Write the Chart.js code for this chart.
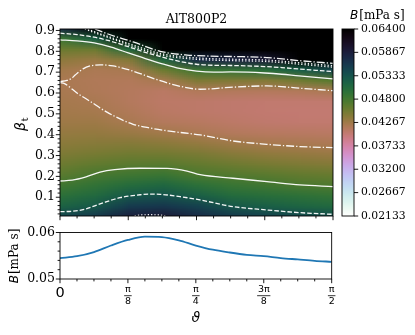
<!DOCTYPE html>
<html>
<head>
<meta charset="utf-8">
<script src="https://cdn.jsdelivr.net/npm/chart.js@4.4.0/dist/chart.umd.min.js"></script>
<style>
  html, body { margin: 0; padding: 0; background: #fff; }
  #page { position: relative; width: 415px; height: 335px; overflow: hidden; }
  .box { position: absolute; }
</style>
</head>
<body>
<div id="page">
  <div class="box" style="left:0;top:0;width:340px;height:230px"><canvas id="mapChart"></canvas></div>
  <div class="box" style="left:330px;top:0;width:85px;height:230px"><canvas id="barChart"></canvas></div>
  <div class="box" style="left:0;top:220px;width:340px;height:115px"><canvas id="lineChart"></canvas></div>
</div>
<script>
// grid of B (mPa s): columns = theta (deg), rows = beta_t
const thetaGrid = [0, 11.25, 22.5, 33.75, 45, 56.25, 67.5, 78.75, 90];
const betaGrid = [0.01, 0.06, 0.11, 0.16, 0.21, 0.26, 0.31, 0.36, 0.41, 0.46,
                  0.51, 0.56, 0.61, 0.66, 0.71, 0.76, 0.81, 0.86, 0.91];
const fieldB = [
  [0.0545, 0.0558, 0.0584, 0.0590, 0.0572, 0.0557, 0.0549, 0.0542, 0.0537],
  [0.0515, 0.0527, 0.0556, 0.0560, 0.0550, 0.0528, 0.0520, 0.0513, 0.0508],
  [0.0497, 0.0508, 0.0527, 0.0533, 0.0520, 0.0505, 0.0500, 0.0495, 0.0490],
  [0.0481, 0.0492, 0.0503, 0.0510, 0.0497, 0.0487, 0.0482, 0.0475, 0.0472],
  [0.0466, 0.0476, 0.0482, 0.0486, 0.0474, 0.0470, 0.0466, 0.0461, 0.0458],
  [0.0455, 0.0462, 0.0466, 0.0467, 0.0461, 0.0455, 0.0450, 0.0446, 0.0443],
  [0.0446, 0.0450, 0.0453, 0.0452, 0.0448, 0.0441, 0.0436, 0.0433, 0.0430],
  [0.0439, 0.0441, 0.0442, 0.0439, 0.0434, 0.0427, 0.0422, 0.0420, 0.0418],
  [0.0433, 0.0434, 0.0430, 0.0425, 0.0419, 0.0414, 0.0411, 0.0410, 0.0409],
  [0.0428, 0.0428, 0.0421, 0.0414, 0.0411, 0.0407, 0.0404, 0.0403, 0.0403],
  [0.0425, 0.0423, 0.0416, 0.0409, 0.0406, 0.0404, 0.0402, 0.0401, 0.0401],
  [0.0423, 0.0420, 0.0413, 0.0407, 0.0406, 0.0404, 0.0403, 0.0403, 0.0403],
  [0.0421, 0.0417, 0.0413, 0.0409, 0.0415, 0.0414, 0.0413, 0.0415, 0.0420],
  [0.0420, 0.0416, 0.0415, 0.0422, 0.0446, 0.0445, 0.0443, 0.0454, 0.0468],
  [0.0425, 0.0419, 0.0421, 0.0455, 0.0484, 0.0490, 0.0500, 0.0522, 0.0545],
  [0.0437, 0.0431, 0.0443, 0.0509, 0.0572, 0.0580, 0.0590, 0.0660, 0.0680],
  [0.0456, 0.0455, 0.0508, 0.0660, 0.0700, 0.0700, 0.0720, 0.0750, 0.0760],
  [0.0484, 0.0519, 0.0680, 0.0750, 0.0780, 0.0780, 0.0780, 0.0800, 0.0800],
  [0.0570, 0.0645, 0.0750, 0.0800, 0.0800, 0.0800, 0.0800, 0.0800, 0.0800]
];

// contour lines (theta deg, beta_t)
const topDashDotT = [11.5, 14.5, 18.1, 24.1, 33, 41.9, 49.5, 57, 68.2, 79.1, 90];
const topDashDotB = [0.907, 0.89, 0.872, 0.845, 0.80, 0.782, 0.777, 0.775, 0.77, 0.755, 0.742];
const topDot1T = [9.2, 13, 16.5, 24.1, 33, 41.9, 49.5, 57, 68.2, 79.1, 90];
const topDot1B = [0.907, 0.885, 0.868, 0.83, 0.79, 0.772, 0.765, 0.762, 0.758, 0.745, 0.731];
const topDot2T = [8.2, 12, 16, 24.1, 33, 41.9, 49.5, 57, 68.2, 79.1, 90];
const topDot2B = [0.907, 0.886, 0.866, 0.823, 0.783, 0.765, 0.758, 0.755, 0.751, 0.738, 0.724];
const topDashT = [0, 5.625, 11.25, 16.875, 22.5, 28.125, 33.75, 39.375, 45, 50.625, 56.25, 61.875, 67.5, 73.125, 78.75, 84.375, 90];
const topDashB = [0.887, 0.880, 0.868, 0.848, 0.822, 0.795, 0.772, 0.752, 0.738, 0.733, 0.732, 0.730, 0.727, 0.722, 0.715, 0.709, 0.703];
const topSolidT = topDashT;
const topSolidB = [0.855, 0.850, 0.840, 0.820, 0.792, 0.765, 0.740, 0.718, 0.705, 0.700, 0.701, 0.700, 0.696, 0.690, 0.682, 0.675, 0.668];
const upDashDotT = [0, 2.3, 3.9, 5.0, 7.6, 10, 13.2, 17.5, 24.1, 32, 39.6, 46.2, 57, 68.2, 79.1, 90];
const upDashDotB = [0.655, 0.660, 0.671, 0.686, 0.716, 0.730, 0.735, 0.730, 0.705, 0.664, 0.632, 0.618, 0.628, 0.634, 0.623, 0.611];
const lowDashDotT = [0, 1.5, 5.6, 10.9, 13.2, 17.5, 24.1, 29.7, 37.3, 46.2, 57, 68.2, 79.1, 90];
const lowDashDotB = [0.650, 0.645, 0.600, 0.551, 0.528, 0.492, 0.450, 0.432, 0.415, 0.399, 0.370, 0.354, 0.343, 0.338];
const lowSolidT = [0, 4, 8.6, 13.2, 18, 26.4, 35.3, 41.9, 46.2, 57, 68.2, 79.1, 90];
const lowSolidB = [0.178, 0.182, 0.198, 0.220, 0.232, 0.239, 0.238, 0.225, 0.208, 0.191, 0.175, 0.159, 0.151];
const lowDashT = [0, 4, 8, 13.2, 19.8, 26.4, 29.7, 33, 39.6, 46.2, 57, 68.2, 79.1, 90];
const lowDashB = [0.031, 0.033, 0.042, 0.068, 0.098, 0.112, 0.115, 0.114, 0.103, 0.087, 0.055, 0.039, 0.026, 0.018];
const lowDotT = [24.6, 26.5, 29.7, 32.8, 34.7];
const lowDotB = [0.0103, 0.0145, 0.016, 0.0145, 0.0103];

// lower panel: B along theta
const thetaLine = [0, 5.625, 11.25, 16.875, 22.5, 28.125, 33.75, 39.375, 45, 50.625, 56.25, 61.875, 67.5, 73.125, 78.75, 84.375, 90];
const bLine = [0.0545, 0.0549, 0.0558, 0.0572, 0.0584, 0.0591, 0.0590, 0.0583, 0.0572, 0.0563, 0.0557, 0.0552, 0.0549, 0.0545, 0.0542, 0.0539, 0.0537];

const cbMin = 0.02133, cbMax = 0.064;
const cbTicks = [0.02133, 0.02667, 0.032, 0.03733, 0.04267, 0.048, 0.05333, 0.05867, 0.064];
const betaTicks = [0.1, 0.2, 0.3, 0.4, 0.5, 0.6, 0.7, 0.8, 0.9];
const thetaTicks = [0, 22.5, 45, 67.5, 90];
const thetaLabels = ['0', ['π', '8'], ['π', '4'], ['3π', '8'], ['π', '2']];
const bTicks = [0.05, 0.06];

const serif = '"DejaVu Serif"';
const sans = '"DejaVu Sans"';

// cubehelix_r
function cmap(v) {
  let t = (v - cbMin) / (cbMax - cbMin);
  t = Math.max(0, Math.min(1, t));
  const x = 1 - t;
  const a = x * (1 - x) / 2;
  const phi = 2 * Math.PI * (0.5 / 3 - 1.5 * x);
  const c = Math.cos(phi), s = Math.sin(phi);
  const f = (p0, p1) => Math.round(255 * Math.max(0, Math.min(1, x + a * (p0 * c + p1 * s))));
  return [f(-0.14861, 1.78277), f(-0.29227, -0.90649), f(1.97294, 0)];
}

function range(step, end, skip) {
  const out = [];
  for (let k = 1; k * step <= end + 1e-9; k++) {
    const v = Math.round(k * step * 1e6) / 1e6;
    if (!skip || Math.abs(v / skip - Math.round(v / skip)) > 1e-6) out.push(v);
  }
  return out;
}
const betaMinor = range(0.02, 0.9, 0.1);
const thetaMinor = range(5.625, 90, 22.5);
const bMinor = [0.052, 0.054, 0.056, 0.058];

function tickMarks(chart, id, majors, minors) {
  const s = chart.scales[id], a = chart.chartArea, ctx = chart.ctx;
  ctx.save();
  ctx.strokeStyle = '#000';
  ctx.lineWidth = 0.9;
  const mark = (v, len) => {
    const p = s.getPixelForValue(v);
    ctx.beginPath();
    if (s.isHorizontal()) { ctx.moveTo(p, a.bottom); ctx.lineTo(p, a.bottom + len); }
    else if (s.position === 'left') { ctx.moveTo(a.left, p); ctx.lineTo(a.left - len, p); }
    else { ctx.moveTo(a.right, p); ctx.lineTo(a.right + len, p); }
    ctx.stroke();
  };
  majors.forEach(v => mark(v, 4.2));
  minors.forEach(v => mark(v, 2.4));
  ctx.restore();
}

function frame(chart) {
  const a = chart.chartArea, ctx = chart.ctx;
  ctx.save();
  ctx.strokeStyle = '#000';
  ctx.lineWidth = 0.9;
  ctx.strokeRect(a.left, a.top, a.right - a.left, a.bottom - a.top);
  ctx.restore();
}

// "B[mPa s]" with mixed fonts, optionally rotated
function unitLabel(ctx, x, y, rotate, align) {
  ctx.save();
  ctx.translate(x, y);
  if (rotate) ctx.rotate(-Math.PI / 2);
  ctx.fillStyle = '#000';
  ctx.textBaseline = 'alphabetic';
  ctx.font = 'italic 12px ' + sans;
  const w1 = ctx.measureText('B').width;
  ctx.font = '12px ' + serif;
  const w2 = ctx.measureText('[mPa s]').width;
  const x0 = align === 'center' ? -(w1 + w2 + 1) / 2 : 0;
  ctx.textAlign = 'left';
  ctx.font = 'italic 12px ' + sans;
  ctx.fillText('B', x0, 0);
  ctx.font = '12px ' + serif;
  ctx.fillText('[mPa s]', x0 + w1 + 1, 0);
  ctx.restore();
}

const noAxisLines = { display: false, drawTicks: false };

function line(tArr, bArr, dash) {
  return {
    data: tArr.map((t, i) => ({ x: t, y: bArr[i] })),
    showLine: true,
    borderColor: 'rgba(255,255,255,0.95)',
    borderWidth: 1.3,
    borderDash: dash,
    pointRadius: 0,
    tension: 0.4,
    cubicInterpolationMode: 'monotone'
  };
}
const dashed = [4.6, 2.0], dashDot = [8, 2.0, 1.3, 2.0], dotted = [1.3, 2.0];

const heatmap = {
  id: 'heatmap',
  beforeDatasetsDraw(chart) {
    const xs = chart.scales.x, ys = chart.scales.y, a = chart.chartArea, ctx = chart.ctx;
    const nc = thetaGrid.length, nr = betaGrid.length;
    const off = document.createElement('canvas');
    off.width = nc + 2; off.height = nr + 2;
    const octx = off.getContext('2d');
    const img = octx.createImageData(nc + 2, nr + 2);
    for (let py = 0; py < nr + 2; py++) {
      const r = Math.min(nr - 1, Math.max(0, nr - py));
      for (let px = 0; px < nc + 2; px++) {
        const c = Math.min(nc - 1, Math.max(0, px - 1));
        const col = cmap(fieldB[r][c]);
        const k = 4 * (py * (nc + 2) + px);
        img.data[k] = col[0]; img.data[k + 1] = col[1]; img.data[k + 2] = col[2]; img.data[k + 3] = 255;
      }
    }
    octx.putImageData(img, 0, 0);
    const dx = xs.getPixelForValue(thetaGrid[1]) - xs.getPixelForValue(thetaGrid[0]);
    const dy = ys.getPixelForValue(betaGrid[0]) - ys.getPixelForValue(betaGrid[1]);
    const left = xs.getPixelForValue(thetaGrid[0]) - 1.5 * dx;
    const top = ys.getPixelForValue(betaGrid[nr - 1]) - 1.5 * dy;
    ctx.save();
    ctx.beginPath();
    ctx.rect(a.left, a.top, a.right - a.left, a.bottom - a.top);
    ctx.clip();
    ctx.imageSmoothingEnabled = true;
    ctx.drawImage(off, left, top, (nc + 2) * dx, (nr + 2) * dy);
    ctx.restore();
  },
  afterDraw(chart) {
    frame(chart);
    tickMarks(chart, 'x', thetaTicks, thetaMinor);
    tickMarks(chart, 'y', betaTicks, betaMinor);
    const a = chart.chartArea, ctx = chart.ctx;
    ctx.save();
    ctx.fillStyle = '#000';
    ctx.font = '12.5px ' + serif;
    ctx.textAlign = 'center';
    ctx.fillText('AlT800P2', (a.left + a.right) / 2, 23);
    ctx.translate(25, 124);
    ctx.rotate(-Math.PI / 2);
    ctx.textAlign = 'left';
    ctx.font = 'italic 14px ' + sans;
    const wb = ctx.measureText('β').width;
    ctx.fillText('β', -7, 0);
    ctx.font = '10px ' + serif;
    ctx.fillText('t', -7 + wb + 0.5, 3);
    ctx.restore();
  }
};

new Chart(document.getElementById('mapChart'), {
  type: 'scatter',
  data: {
    datasets: [
      line(topDashDotT, topDashDotB, dashDot),
      line(topDot1T, topDot1B, dotted),
      line(topDot2T, topDot2B, dotted),
      line(topDashT, topDashB, dashed),
      line(topSolidT, topSolidB, []),
      line(upDashDotT, upDashDotB, dashDot),
      line(lowDashDotT, lowDashDotB, dashDot),
      line(lowSolidT, lowSolidB, []),
      line(lowDashT, lowDashB, dashed),
      line(lowDotT, lowDotB, dotted)
    ]
  },
  options: {
    responsive: true,
    maintainAspectRatio: false,
    animation: false,
    devicePixelRatio: 1,
    layout: { padding: { left: 0, right: 7, top: 29, bottom: 0 } },
    plugins: { legend: { display: false }, tooltip: { enabled: false } },
    scales: {
      x: {
        type: 'linear', min: 0, max: 90,
        ticks: { display: false },
        grid: noAxisLines, border: { display: false },
        afterFit: s => { s.height = 14; }
      },
      y: {
        type: 'linear', min: 0.01, max: 0.907,
        afterBuildTicks: s => { s.ticks = betaTicks.map(v => ({ value: v })); },
        ticks: { color: '#000', padding: 5, font: { family: serif, size: 12.5 }, callback: v => v.toFixed(1) },
        grid: noAxisLines, border: { display: false },
        afterFit: s => { s.width = 60; }
      }
    }
  },
  plugins: [heatmap]
});

// colour bar
const colorBar = {
  id: 'colorBar',
  beforeDatasetsDraw(chart) {
    const a = chart.chartArea, ys = chart.scales.y, ctx = chart.ctx;
    ctx.save();
    for (let y = Math.floor(a.top); y < a.bottom; y++) {
      const c = cmap(ys.getValueForPixel(y + 0.5));
      ctx.fillStyle = 'rgb(' + c.join(',') + ')';
      ctx.fillRect(a.left, y, a.right - a.left, 1);
    }
    ctx.restore();
  },
  afterDraw(chart) {
    frame(chart);
    tickMarks(chart, 'y', cbTicks, []);
    unitLabel(chart.ctx, 20, 19, false, 'left');
  }
};

new Chart(document.getElementById('barChart'), {
  type: 'scatter',
  data: { datasets: [{ data: [] }] },
  options: {
    responsive: true,
    maintainAspectRatio: false,
    animation: false,
    devicePixelRatio: 1,
    layout: { padding: { left: 12, right: 0, top: 29, bottom: 14 } },
    plugins: { legend: { display: false }, tooltip: { enabled: false } },
    scales: {
      x: { type: 'linear', min: 0, max: 1, display: false },
      y: {
        type: 'linear', position: 'right', min: cbMin, max: cbMax,
        afterBuildTicks: s => { s.ticks = cbTicks.map(v => ({ value: v })); },
        ticks: { color: '#000', padding: 7, font: { family: serif, size: 10.8 }, callback: v => v.toFixed(5) },
        grid: noAxisLines, border: { display: false },
        afterFit: s => { s.width = 61; }
      }
    }
  },
  plugins: [colorBar]
});

// lower panel
const lowerDeco = {
  id: 'lowerDeco',
  afterDraw(chart) {
    frame(chart);
    tickMarks(chart, 'x', thetaTicks, thetaMinor);
    tickMarks(chart, 'y', bTicks, bMinor);
    const xs = chart.scales.x, a = chart.chartArea, ctx = chart.ctx;
    ctx.save();
    ctx.strokeStyle = '#000';
    ctx.lineWidth = 0.8;
    ctx.font = '9.5px ' + sans;
    const yb = a.bottom + 5.3 + 11.4;
    thetaTicks.forEach((v, i) => {
      const lab = thetaLabels[i];
      if (!Array.isArray(lab)) return;
      const w = Math.max(ctx.measureText(lab[0]).width, ctx.measureText(lab[1]).width) + 1.5;
      const p = xs.getPixelForValue(v);
      ctx.beginPath();
      ctx.moveTo(p - w / 2, yb);
      ctx.lineTo(p + w / 2, yb);
      ctx.stroke();
    });
    ctx.fillStyle = '#000';
    ctx.font = 'italic 14px ' + sans;
    ctx.textAlign = 'center';
    ctx.fillText('ϑ', (a.left + a.right) / 2, 102);
    ctx.restore();
    unitLabel(ctx, 18, 36, true, 'center');
  }
};

new Chart(document.getElementById('lineChart'), {
  type: 'scatter',
  data: {
    datasets: [{
      data: thetaLine.map((t, i) => ({ x: t, y: bLine[i] })),
      showLine: true,
      borderColor: '#1f77b4',
      borderWidth: 1.8,
      pointRadius: 0,
      cubicInterpolationMode: 'monotone'
    }]
  },
  options: {
    responsive: true,
    maintainAspectRatio: false,
    animation: false,
    devicePixelRatio: 1,
    layout: { padding: { left: 0, right: 7, top: 12, bottom: 0 } },
    plugins: { legend: { display: false }, tooltip: { enabled: false } },
    scales: {
      x: {
        type: 'linear', min: 0, max: 90,
        afterBuildTicks: s => { s.ticks = thetaTicks.map(v => ({ value: v })); },
        ticks: {
          color: '#000', padding: 5.3, maxRotation: 0, autoSkip: false,
          font: c => (c.index === 0 ? { family: sans, size: 14.5 } : { family: sans, size: 9.5 }),
          callback: (v, i) => thetaLabels[i]
        },
        grid: noAxisLines, border: { display: false },
        afterFit: s => { s.height = 56; }
      },
      y: {
        type: 'linear', min: 0.05, max: 0.06,
        afterBuildTicks: s => { s.ticks = bTicks.map(v => ({ value: v })); },
        ticks: { color: '#000', padding: 5, font: { family: serif, size: 12.5 }, callback: v => v.toFixed(2) },
        grid: noAxisLines, border: { display: false },
        afterFit: s => { s.width = 60; }
      }
    }
  },
  plugins: [lowerDeco]
});
</script>
</body>
</html>
